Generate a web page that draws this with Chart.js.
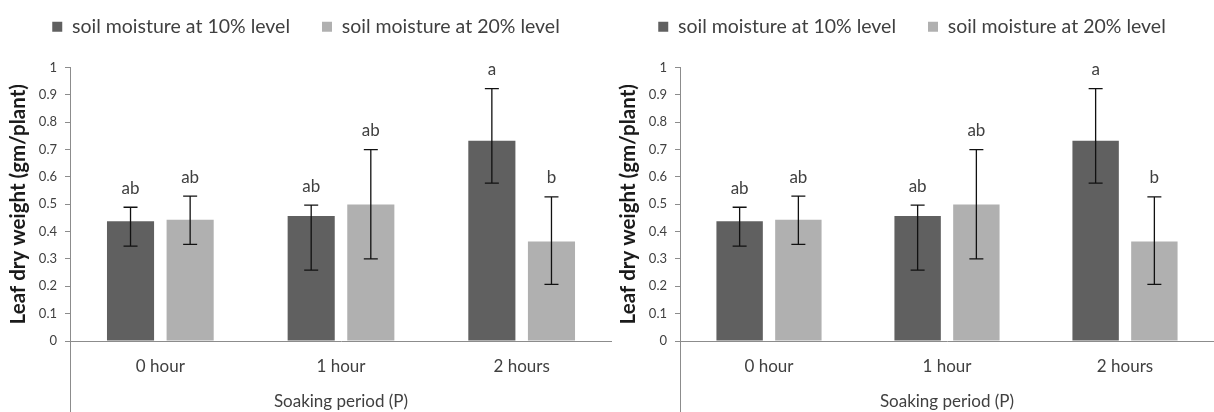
<!DOCTYPE html>
<html>
<head>
<meta charset="utf-8">
<script src="https://cdn.jsdelivr.net/npm/chart.js@4.4.1/dist/chart.umd.min.js"></script>
<style>
  html, body { margin: 0; padding: 0; background: #ffffff; }
  #wrap { position: relative; width: 1214px; height: 412px; overflow: hidden; background: #ffffff; }
  .box { position: absolute; top: 0; height: 412px; }
</style>
</head>
<body>
<div id="wrap">
  <div class="box" style="left:0px;width:612px;"><canvas id="c1"></canvas></div>
  <div class="box" style="left:610px;width:604px;"><canvas id="c2"></canvas></div>
</div>
<script>
// ---- data ----
const categories = ['0 hour', '1 hour', '2 hours'];
const seriesNames = ['soil moisture at 10% level', 'soil moisture at 20% level'];
const moist10 = [0.438, 0.457, 0.732];
const moist10Low = [0.347, 0.259, 0.577];
const moist10High = [0.489, 0.497, 0.923];
const moist20 = [0.443, 0.499, 0.364];
const moist20Low = [0.353, 0.300, 0.207];
const moist20High = [0.530, 0.700, 0.527];
const letters10 = ['ab', 'ab', 'a'];
const letters20 = ['ab', 'ab', 'b'];
const yTitle = 'Leaf dry weight (gm/plant)';
const xTitle = 'Soaking period (P)';

const FONT = 'Lato, "Open Sans", sans-serif';
const TXT = '#404040';
const AXIS = '#8c8c8c';

const errorBarPlugin = {
  id: 'errorBars',
  afterDatasetsDraw(chart) {
    const ctx = chart.ctx;
    const ys = chart.scales.y;
    chart.data.datasets.forEach((ds, di) => {
      const meta = chart.getDatasetMeta(di);
      meta.data.forEach((bar, i) => {
        const x = bar.x;
        const yH = ys.getPixelForValue(ds.errHigh[i]);
        const yL = ys.getPixelForValue(ds.errLow[i]);
        ctx.save();
        ctx.strokeStyle = '#111111';
        ctx.lineWidth = 1.3;
        ctx.beginPath();
        ctx.moveTo(x, yH); ctx.lineTo(x, yL);
        ctx.moveTo(x - 7, yH); ctx.lineTo(x + 7, yH);
        ctx.moveTo(x - 7, yL); ctx.lineTo(x + 7, yL);
        ctx.stroke();
        ctx.fillStyle = TXT;
        ctx.font = '17px ' + FONT;
        ctx.textAlign = 'center';
        ctx.textBaseline = 'middle';
        ctx.fillText(ds.letters[i], x, yH - 19);
        ctx.restore();
      });
    });
  }
};

const axisExtendPlugin = {
  id: 'axisExtend',
  afterDraw(chart) {
    const ctx = chart.ctx;
    const a = chart.chartArea;
    ctx.save();
    ctx.strokeStyle = AXIS;
    ctx.lineWidth = 1;
    ctx.beginPath();
    ctx.moveTo(Math.round(a.left) + 0.5, a.bottom);
    ctx.lineTo(Math.round(a.left) + 0.5, chart.height);
    ctx.stroke();
    ctx.restore();
  }
};

function makeChart(id) {
  return new Chart(document.getElementById(id), {
    type: 'bar',
    data: {
      labels: categories,
      datasets: [
        { label: seriesNames[0], data: moist10, errLow: moist10Low, errHigh: moist10High, letters: letters10,
          backgroundColor: '#606060', borderWidth: 0 },
        { label: seriesNames[1], data: moist20, errLow: moist20Low, errHigh: moist20High, letters: letters20,
          backgroundColor: '#b0b0b0', borderWidth: 0 }
      ]
    },
    options: {
      responsive: true,
      maintainAspectRatio: false,
      animation: false,
      categoryPercentage: 0.66,
      barPercentage: 0.79,
      layout: { padding: { top: -15, left: 0, right: 0, bottom: 0 } },
      plugins: {
        legend: {
          display: true,
          position: 'top',
          weight: 3000,
          labels: {
            boxWidth: 10, boxHeight: 10, padding: 32,
            color: TXT, font: { family: FONT, size: 19.5 }
          }
        },
        subtitle: {
          display: true,
          text: '',
          position: 'top',
          weight: 1500,
          font: { size: 10 },
          padding: { top: 0, bottom: 9 }
        },
        tooltip: { enabled: false }
      },
      scales: {
        x: {
          grid: { display: false, tickLength: 0 },
          border: { display: true, color: AXIS, width: 1 },
          ticks: { color: TXT, font: { family: FONT, size: 17 }, padding: 15 },
          title: { display: true, text: xTitle, color: TXT, font: { family: FONT, size: 17 }, padding: { top: 0, bottom: 0 } },
          afterFit(scale) { scale.height = 71; }
        },
        y: {
          min: 0, max: 1,
          ticks: { stepSize: 0.1, color: TXT, font: { family: FONT, size: 13 }, padding: 8,
                   callback: (v) => String(Math.round(v * 10) / 10) },
          grid: { drawOnChartArea: false, drawTicks: true, tickLength: 5, color: AXIS },
          border: { display: true, color: AXIS, width: 1 },
          title: { display: true, text: yTitle, color: '#1a1a1a', font: { family: FONT, size: 20.5, weight: 'bold' }, padding: { top: 6, bottom: 0 } },
          afterFit(scale) { scale.width = 70; }
        }
      }
    },
    plugins: [errorBarPlugin, axisExtendPlugin]
  });
}

makeChart('c1');
makeChart('c2');
</script>
</body>
</html>
